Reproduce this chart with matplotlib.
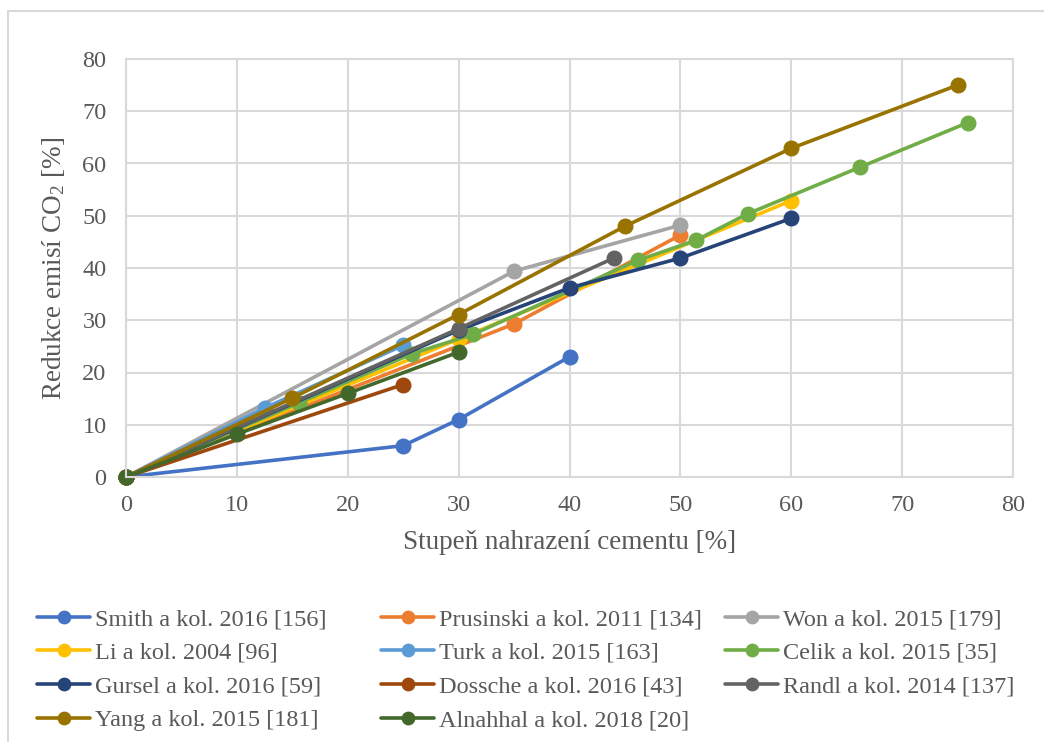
import matplotlib
matplotlib.use("Agg")
import matplotlib.pyplot as plt
from matplotlib.patches import Rectangle

plt.rcParams["font.family"] = ["Liberation Serif", "DejaVu Serif"]
plt.rcParams["mathtext.fontset"] = "stix"

# replacement level [%] vs. CO2 reduction [%]
labels = [
    "Smith a kol. 2016 [156]",
    "Prusinski a kol. 2011 [134]",
    "Won a kol. 2015 [179]",
    "Li a kol. 2004 [96]",
    "Turk a kol. 2015 [163]",
    "Celik a kol. 2015 [35]",
    "Gursel a kol. 2016 [59]",
    "Dossche a kol. 2016 [43]",
    "Randl a kol. 2014 [137]",
    "Yang a kol. 2015 [181]",
    "Alnahhal a kol. 2018 [20]",
]
colors = ["#4472C4", "#ED7D31", "#A5A5A5", "#FFC000", "#5B9BD5", "#70AD47",
          "#264478", "#9E480E", "#636363", "#997300", "#43682B"]

smith_x = [0, 25, 30, 40]
smith_y = [0, 6, 11, 23]
prusinski_x = [0, 35, 50]
prusinski_y = [0, 29.3, 46.3]
won_x = [0, 35, 50]
won_y = [0, 39.4, 48.2]
li_x = [0, 30, 60]
li_y = [0, 26.4, 52.9]
turk_x = [0, 12.5, 25]
turk_y = [0, 13.2, 25.2]
celik_x = [0, 15.6, 25.8, 31.3, 46.2, 51.4, 56.1, 66.2, 75.9]
celik_y = [0, 14.2, 23.6, 27.3, 41.5, 45.3, 50.4, 59.3, 67.8]
gursel_x = [0, 30, 40, 50, 60]
gursel_y = [0, 28.1, 36.2, 41.9, 49.5]
dossche_x = [0, 25]
dossche_y = [0, 17.7]
randl_x = [0, 30, 44]
randl_y = [0, 28.4, 41.9]
yang_x = [0, 15, 30, 45, 60, 75]
yang_y = [0, 15.1, 31.1, 48.0, 62.9, 75.0]
alnahhal_x = [0, 10, 20, 30]
alnahhal_y = [0, 8.2, 16.0, 23.9]

series = [
    (smith_x, smith_y), (prusinski_x, prusinski_y), (won_x, won_y),
    (li_x, li_y), (turk_x, turk_y), (celik_x, celik_y),
    (gursel_x, gursel_y), (dossche_x, dossche_y), (randl_x, randl_y),
    (yang_x, yang_y), (alnahhal_x, alnahhal_y),
]

W, H = 1044, 742
fig = plt.figure(figsize=(W / 100, H / 100), dpi=100)

# chart area border
fig.patches.append(Rectangle((8 / W, -0.1), 1.2, 1 - 11 / H + 0.1,
                             transform=fig.transFigure, fill=False,
                             edgecolor="#D9D9D9", linewidth=1.5))

ax = fig.add_axes([126 / W, 1 - 477 / H, (1013 - 126) / W, (477 - 59) / H])

handles = []
for (x, y), lab, c in zip(series, labels, colors):
    h, = ax.plot(x, y, color=c, linewidth=2.6, marker="o", markersize=10.5,
                 label=lab, solid_capstyle="round", clip_on=False)
    handles.append(h)

ax.set_xlim(0, 80)
ax.set_ylim(0, 80)
ax.set_xticks(range(0, 81, 10))
ax.set_yticks(range(0, 81, 10))
ax.grid(True, color="#D9D9D9", linewidth=1.5)
ax.set_axisbelow(True)
for s in ax.spines.values():
    s.set_color("#D9D9D9")
    s.set_linewidth(1.5)
ax.tick_params(length=0, labelsize=17.5, labelcolor="#595959")
ax.tick_params(axis="y", pad=14)
ax.tick_params(axis="x", pad=13)

ax.set_xlabel("Stupeň nahrazení cementu [%]", fontsize=19.5, color="#595959",
              labelpad=10)
ax.set_ylabel(r"Redukce emisí CO$_\mathregular{2}$ [%]", fontsize=19.5,
              color="#595959", labelpad=11)

# legend laid out row by row in three equal columns
col_x = [37, 381, 725]
for col in range(3):
    idx = list(range(col, len(labels), 3))
    fig.legend([handles[i] for i in idx], [labels[i] for i in idx],
               loc="upper left", bbox_to_anchor=(col_x[col] / W, 1 - 608 / H),
               borderaxespad=0, borderpad=0, frameon=False, fontsize=17.5,
               labelcolor="#595959", handlelength=2.2, handletextpad=0.2,
               labelspacing=0.48, markerscale=0.85)

fig.savefig("out.png", dpi=100)
